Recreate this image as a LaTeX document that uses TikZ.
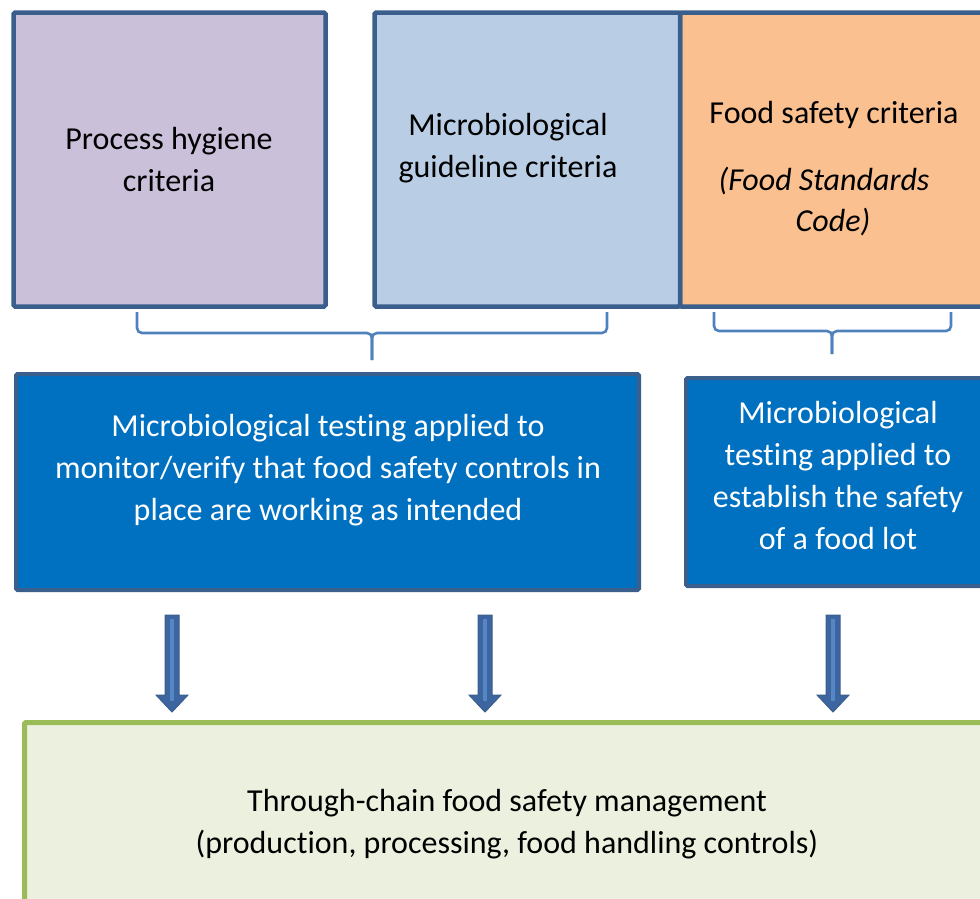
\documentclass[tikz,border=0pt]{standalone}
\usepackage{fontspec}
\setmainfont{Carlito}[RawFeature={-liga;-calt;-clig;-dlig}]
\usetikzlibrary{calc}
\definecolor{bord}{HTML}{3A5F8C}
\definecolor{purp}{HTML}{CBC0DA}
\definecolor{lblue}{HTML}{B9CDE5}
\definecolor{orng}{HTML}{FAC090}
\definecolor{dblue}{HTML}{0070C0}
\definecolor{grn}{HTML}{9BBB59}
\definecolor{lgrn}{HTML}{EBF1DE}
\definecolor{brc}{HTML}{4F81BD}
\definecolor{arwfill}{HTML}{3D66A0}
\definecolor{arwhi}{HTML}{5587C4}
\begin{document}
\begin{tikzpicture}[x=1pt,y=-1pt,
  box/.style={draw=bord, line width=4.5pt, rounded corners=1.5pt, inner sep=0pt, outer sep=0pt, anchor=north west},
  txt/.style={font=\fontsize{32}{42}\selectfont, align=center, inner sep=0pt},
  wtxt/.style={txt, text=white},
  brace/.style={draw=brc, line width=2.6pt, rounded corners=5pt},
]
\useasboundingbox (0,0) rectangle (980,898);
\clip (0,0) rectangle (980,898);

% top boxes
\node[box, fill=purp, minimum width=312pt, minimum height=294pt] (phc) at (13.5,12.5) {};
\node[box, fill=orng, minimum width=330pt, minimum height=294pt] (fsc) at (680,12.5) {};
\node[box, fill=lblue, minimum width=305.5pt, minimum height=294pt] (mgc) at (374.5,12.5) {};

% middle boxes
\node[box, fill=dblue, line width=4pt, minimum width=623pt, minimum height=216pt] (mon) at (16,374) {};
\node[box, fill=dblue, line width=4pt, minimum width=320pt, minimum height=208pt] (est) at (686,378) {};

% bottom box
\node[box, draw=grn, fill=lgrn, line width=5pt, minimum width=990pt, minimum height=250pt] (chain) at (24.5,722.5) {};

% texts
\node[txt] (t1) at (169,160) {Process hygiene\\criteria};
\node[txt] (t2) at (508,148) {Microbiological\\guideline criteria};
\node[txt] (t3) at (834,115) {Food safety criteria};
\node[txt, font=\fontsize{32}{42}\selectfont\itshape] (t3a) at (824,181) {(Food Standards};
\node[txt, font=\fontsize{32}{42}\selectfont\itshape] (t3b) at (833,222) {Code)};
\node[wtxt] (t4) at (328,470) {Microbiological testing applied to\\monitor/verify that food safety controls in\\place are working as intended};
\node[wtxt] (t5) at (838,475) {Microbiological\\testing applied to\\establish the safety\\of a food lot};
\node[txt] (t6) at (507,824) {Through-chain food safety management\\(production, processing, food handling controls)};

% braces
\coordinate (b1l) at (137,312);
\coordinate (b1r) at (607,312);
\coordinate (b1m) at (372,333);
\coordinate (b1t) at (372,360);
\draw[brace] (b1l) -- (b1l |- b1m) -- (b1m) -- (b1t);
\draw[brace] (b1r) -- (b1r |- b1m) -- (b1m) -- (b1t);
\coordinate (b2l) at (714,312);
\coordinate (b2r) at (951,312);
\coordinate (b2m) at (832,331);
\coordinate (b2t) at (832,354);
\draw[brace] (b2l) -- (b2l |- b2m) -- (b2m) -- (b2t);
\draw[brace] (b2r) -- (b2r |- b2m) -- (b2m) -- (b2t);

% block arrows
\foreach \n/\x in {a1/172, a2/485, a3/833}{
  \coordinate (\n) at (\x,615);
  \fill[arwfill, draw=bord, line width=1pt]
    (\n) ++(-7,0) -- ++(14,0) -- ++(0,80) -- ++(9,0) -- ++(-16,17) -- ++(-16,-17) -- ++(9,0) -- cycle;
  \draw[arwhi, line width=4pt] (\n) ++(0,4) -- ++(0,82);
}
\end{tikzpicture}
\end{document}
